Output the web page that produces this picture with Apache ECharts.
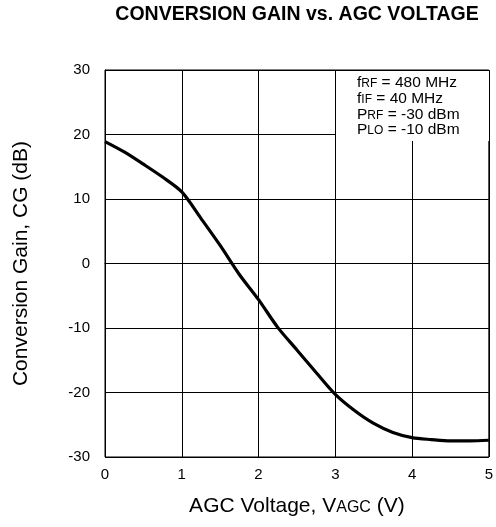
<!DOCTYPE html>
<html>
<head>
<meta charset="utf-8">
<script src="https://cdn.jsdelivr.net/npm/echarts@6/dist/echarts.min.js"></script>
<style>
  html, body { margin: 0; padding: 0; background: #fff; }
  #chart { width: 496px; height: 527px; }
</style>
</head>
<body>
<div id="chart"></div>
<script>
// AGC voltage (V) and conversion gain (dB)
var agcVoltage = [0, 0.25, 0.5, 0.75, 1, 1.25, 1.5, 1.75, 2, 2.25, 2.5, 2.75, 3, 3.25, 3.5, 3.75, 4, 4.25, 4.5, 4.75, 5];
var convGain = [18.9, 17.3, 15.4, 13.4, 11.1, 7.0, 2.8, -1.7, -5.6, -9.9, -13.4, -16.9, -20.3, -22.8, -24.8, -26.2, -27.0, -27.3, -27.5, -27.5, -27.4];

var xTicks = [0, 1, 2, 3, 4, 5];
var yTicks = [-30, -20, -10, 0, 10, 20, 30];

var font = 'Liberation Sans, Arial, sans-serif';

var myChart = echarts.init(document.getElementById('chart'));

var points = agcVoltage.map(function (v, i) { return [v, convGain[i]]; });

var option = {
  backgroundColor: '#fff',
  animation: false,
  title: {
    text: 'CONVERSION GAIN vs. AGC VOLTAGE',
    left: 292,
    textAlign: 'center',
    top: 0,
    textStyle: { fontFamily: font, fontSize: 19.5, fontWeight: 'bold', color: '#000' }
  },
  grid: {
    left: 105, right: 6, top: 70, bottom: 70,
    show: true, borderColor: '#000', borderWidth: 1
  },
  xAxis: {
    type: 'value',
    min: xTicks[0], max: xTicks[xTicks.length - 1], interval: 1,
    axisLine: { show: true, lineStyle: { color: '#000', width: 1 } },
    axisTick: { show: false },
    splitLine: { show: true, lineStyle: { color: '#000', width: 1 } },
    axisLabel: { color: '#000', fontFamily: font, fontSize: 15, margin: 10 },
    name: '{m|AGC Voltage, V}{s|AGC}{m| (V)}',
    nameLocation: 'middle',
    nameGap: 36,
    nameTextStyle: {
      fontFamily: font, fontSize: 21, color: '#000',
      rich: {
        m: { fontFamily: font, fontSize: 21, color: '#000', verticalAlign: 'bottom', lineHeight: 24 },
        s: { fontFamily: font, fontSize: 16, color: '#000', verticalAlign: 'bottom', lineHeight: 24, padding: [0, 0, 1, 0] }
      }
    }
  },
  yAxis: {
    type: 'value',
    min: yTicks[0], max: yTicks[yTicks.length - 1], interval: 10,
    axisLine: { show: true, lineStyle: { color: '#000', width: 1 } },
    axisTick: { show: false },
    splitLine: { show: true, lineStyle: { color: '#000', width: 1 } },
    axisLabel: { color: '#000', fontFamily: font, fontSize: 15, margin: 15 },
    name: 'Conversion Gain, CG (dB)',
    nameLocation: 'middle',
    nameGap: 73,
    nameTextStyle: { fontFamily: font, fontSize: 21, color: '#000' }
  },
  series: [{
    type: 'line',
    data: points,
    smooth: 0.3,
    showSymbol: false,
    lineStyle: { color: '#000', width: 3.2 }
  }],
  graphic: [
    {
      type: 'rect',
      shape: { x: 336, y: 71, width: 153, height: 70 },
      style: { fill: '#fff' },
      z: 100
    },
    {
      type: 'text',
      x: 357, y: 75.5,
      z: 101,
      style: {
        text: '{m|f}{s|RF}{m| = 480 MHz}\n{m|f}{s|IF}{m| = 40 MHz}\n{m|P}{s|RF}{m| = -30 dBm}\n{m|P}{s|LO}{m| = -10 dBm}',
        fontFamily: font, fontSize: 15.5, fill: '#000',
        rich: {
          m: { fontFamily: font, fontSize: 15.5, fill: '#000', verticalAlign: 'bottom', lineHeight: 15.6 },
          s: { fontFamily: font, fontSize: 12, fill: '#000', verticalAlign: 'bottom', lineHeight: 15.6, padding: [0, 0, 1, 0] }
        }
      }
    }
  ]
};

myChart.setOption(option);
</script>
</body>
</html>
